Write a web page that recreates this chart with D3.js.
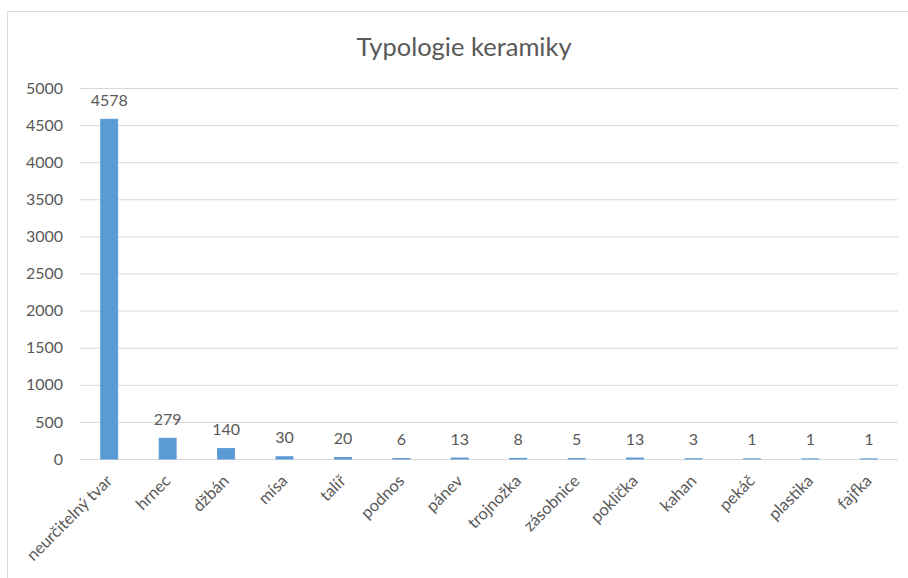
<!DOCTYPE html>
<html>
    <head>
        <meta charset="utf-8">
        <title>Typologie keramiky</title>
        <script src="https://d3js.org/d3.v7.min.js"></script>
    </head>

    <body>
        <div id="root"></div>
    </body>

    <style>
body {
    margin: 0;
    background: #fff;
}
svg {
    display: block;
}
svg text {
    font-family: Lato, "Open Sans", sans-serif;
    fill: #595959;
}
    </style>

    <script>
        let categories = ['neurčitelný tvar', 'hrnec', 'džbán', 'mísa', 'talíř', 'podnos', 'pánev',
            'trojnožka', 'zásobnice', 'poklička', 'kahan', 'pekáč', 'plastika', 'fajfka'];
        let values = [4578, 279, 140, 30, 20, 6, 13, 8, 5, 13, 3, 1, 1, 1];
        let y_ticks = [0, 500, 1000, 1500, 2000, 2500, 3000, 3500, 4000, 4500, 5000];
        let title = 'Typologie keramiky';

        let width = 908;
        let height = 578;
        let margin = { top: 88, right: 10, bottom: 119, left: 80 };

        let blue = '#5b9bd5';
        let grid = '#d9d9d9';

        let scale_x = d3.scaleBand()
            .domain(categories)
            .range([margin.left, width - margin.right])
            .paddingInner(0.71)
            .paddingOuter(0.355);
        let scale_y = d3.scaleLinear()
            .domain([0, 5000])
            .range([height - margin.bottom, margin.top]);

        let svg = d3.select('#root')
            .append('svg')
            .attr('width', width)
            .attr('height', height);

        // chart frame (only top and left edges show in the picture)
        svg.append('rect')
            .attr('x', 7.5)
            .attr('y', 11.5)
            .attr('width', 1000)
            .attr('height', 1000)
            .attr('fill', 'none')
            .attr('stroke', grid);

        svg.append('text')
            .attr('x', 464)
            .attr('y', 56)
            .attr('text-anchor', 'middle')
            .attr('font-size', 25.5)
            .text(title);

        // gridlines + y labels
        let axis_y = svg.append('g')
            .attr('transform', `translate(${margin.left}, 0)`)
            .call(d3.axisLeft(scale_y)
                .tickValues(y_ticks)
                .tickSize(-(width - margin.right - margin.left))
                .tickPadding(17)
                .tickFormat(d3.format('d')));
        axis_y.select('.domain').remove();
        axis_y.selectAll('.tick line')
            .attr('stroke', grid);
        axis_y.selectAll('.tick text')
            .attr('font-size', 16)
            .attr('fill', '#595959')
            .attr('font-family', 'Lato');

        svg.append('g')
            .selectAll('rect')
            .data(values)
            .join('rect')
            .attr('x', (d, i) => scale_x(categories[i]))
            .attr('y', d => scale_y(d))
            .attr('width', scale_x.bandwidth())
            .attr('height', d => scale_y(0) - scale_y(d))
            .attr('fill', blue)
            .attr('stroke', blue)
            .attr('stroke-width', 1);

        // value labels
        svg.append('g')
            .selectAll('text')
            .data(values)
            .join('text')
            .attr('x', (d, i) => scale_x(categories[i]) + scale_x.bandwidth() / 2)
            .attr('y', d => scale_y(d) - 13.5)
            .attr('text-anchor', 'middle')
            .attr('font-size', 16)
            .text(d => d);

        // category labels
        svg.append('g')
            .selectAll('text')
            .data(categories)
            .join('text')
            .attr('transform', d => `translate(${scale_x(d) + scale_x.bandwidth() / 2 + 4}, ${scale_y(0) + 23}) rotate(-45)`)
            .attr('text-anchor', 'end')
            .attr('font-size', 16.5)
            .text(d => d);
    </script>
</html>
